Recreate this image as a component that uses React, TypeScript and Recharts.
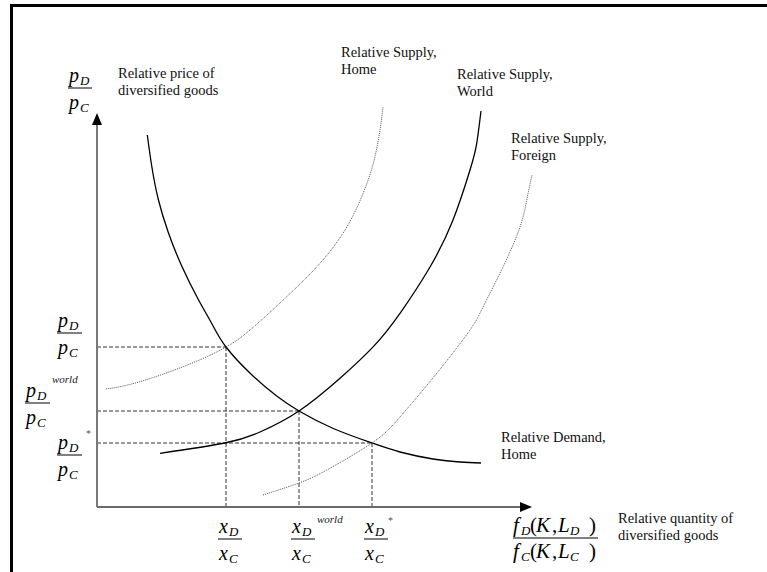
import React from 'react';
import { LineChart, Line, XAxis, YAxis, ReferenceLine, ReferenceDot, Customized } from 'recharts';

// Equilibria: home autarky, world (free trade), foreign autarky
const eqQuantity = [32.25, 50.5, 68.75];
const eqPrice = [40, 24, 16];
const eqSuperscript = ['', 'world', '*'];

// Relative demand, home (quantity, price)
const demandQ = [12.58, 13.68, 15.33, 17.83, 21.18, 25.33, 28.75, 32.25, 38.75, 44.93, 50.5, 59.08, 68.75, 75.75, 84.0, 90.75, 96.0];
const demandP = [93.0, 85.25, 76.88, 68.63, 60.25, 51.88, 45.75, 40.0, 33.0, 27.75, 24.0, 19.63, 16.0, 13.75, 12.0, 11.25, 11.0];

// Relative supply, home
const supplyHomeQ = [2.25, 10.75, 23.68, 32.25, 38.25, 47.43, 55.75, 62.0, 66.18, 69.08, 70.75, 71.5];
const supplyHomeP = [29.5, 31.33, 35.93, 40.0, 44.25, 52.58, 60.93, 69.25, 77.58, 85.93, 94.25, 100.0];

// Relative supply, world
const supplyWorldQ = [15.75, 32.0, 40.75, 50.5, 60.75, 69.08, 75.75, 83.25, 89.0, 93.25, 94.93, 96.0];
const supplyWorldP = [13.43, 16.0, 18.75, 24.0, 32.18, 40.08, 48.43, 60.0, 71.75, 84.25, 90.93, 99.0];

// Relative supply, foreign
const supplyForeignQ = [41.5, 50.5, 57.43, 68.75, 75.75, 85.0, 93.25, 96.5, 101.5, 105.75, 107.43, 108.75];
const supplyForeignP = [3.0, 6.0, 9.25, 16.0, 22.5, 33.5, 44.25, 50.0, 60.0, 70.0, 76.75, 83.0];

const AXIS_END_Q = 108.75;
const AXIS_END_P = 98.5;

const toPoints = (q: number[], p: number[]) => q.map((x, i) => ({ x, y: p[i] }));

const demand = toPoints(demandQ, demandP);
const supplyHome = toPoints(supplyHomeQ, supplyHomeP);
const supplyWorld = toPoints(supplyWorldQ, supplyWorldP);
const supplyForeign = toPoints(supplyForeignQ, supplyForeignP);

const SERIF = "'Liberation Serif', 'Times New Roman', serif";
const MATH = 20;
const SUB = 13;

type FracProps = {
  left: number;
  lineY: number;
  width: number;
  letter: string;
  numSub: string;
  denSub: string;
  numOffset: number;
};

const Frac = ({ left, lineY, width, letter, numSub, denSub, numOffset }: FracProps) => (
  <g fontFamily={SERIF} fill="#000">
    <line x1={left} x2={left + width} y1={lineY} y2={lineY} stroke="#000" strokeWidth={1} />
    <text x={left + 1} y={lineY - numOffset} fontSize={MATH} fontStyle="italic">
      {letter}
      <tspan fontSize={SUB} dx={1} dy={3}>{numSub}</tspan>
    </text>
    <text x={left + 1} y={lineY + 21} fontSize={MATH} fontStyle="italic">
      {letter}
      <tspan fontSize={SUB} dx={1} dy={3}>{denSub}</tspan>
    </text>
  </g>
);

// price label beside the vertical axis, at the equilibrium price's height
const PriceLabel = ({ cy, index }: { cy: number; index: number }) => {
  const layouts = [
    { left: 57, dy: -14 },
    { left: 25, dy: -8 },
    { left: 57, dy: 12 },
  ];
  const l = layouts[index];
  const lineY = cy + l.dy;
  const sup = eqSuperscript[index];
  return (
    <g>
      <Frac left={l.left} lineY={lineY} width={25} letter="p" numSub="D" denSub="C" numOffset={6} />
      {sup === 'world' && (
        <text x={52} y={cy - 28} fontFamily={SERIF} fontSize={11} fontStyle="italic" fill="#222">world</text>
      )}
      {sup === '*' && (
        <text x={86} y={cy - 6} fontFamily={SERIF} fontSize={10} fill="#555">*</text>
      )}
    </g>
  );
};

// quantity label under the horizontal axis, at the equilibrium quantity
const QuantityLabel = ({ cx, index }: { cx: number; index: number }) => {
  const sup = eqSuperscript[index];
  return (
    <g>
      <Frac left={cx - 8} lineY={539} width={24} letter="x" numSub="D" denSub="C" numOffset={6} />
      {sup === 'world' && (
        <text x={cx + 18} y={523} fontFamily={SERIF} fontSize={11} fontStyle="italic" fill="#222">world</text>
      )}
      {sup === '*' && (
        <text x={cx + 16} y={524} fontFamily={SERIF} fontSize={10} fill="#555">*</text>
      )}
    </g>
  );
};

const Caption = ({ x, y, lines }: { x: number; y: number; lines: string[] }) => (
  <text x={x} y={y} fontFamily={SERIF} fontSize={14.5} fill="#111">
    {lines.map((t, i) => (
      <tspan key={i} x={x} dy={i === 0 ? 0 : 16.5}>{t}</tspan>
    ))}
  </text>
);

// f_D(K, L_D) over f_C(K, L_C)
const FactorRatio = () => {
  const part = (base: number, sub: string) => (
    <text y={base} fontFamily={SERIF} fontSize={21} fill="#000">
      <tspan x={513} fontStyle="italic">f</tspan>
      <tspan x={521} dy={3} fontSize={SUB} fontStyle="italic">{sub}</tspan>
      <tspan x={530} dy={-3}>(</tspan>
      <tspan x={536} fontStyle="italic">K</tspan>
      <tspan x={552}>,</tspan>
      <tspan x={558} fontStyle="italic">L</tspan>
      <tspan x={570} dy={3} fontSize={SUB} fontStyle="italic">{sub}</tspan>
      <tspan x={589} dy={-3}>)</tspan>
    </text>
  );
  return (
    <g>
      {part(532, 'D')}
      <line x1={513} x2={598} y1={538} y2={538} stroke="#000" strokeWidth={1} />
      {part(558, 'C')}
    </g>
  );
};

const Annotations = () => (
  <g>
    <Frac left={68} lineY={88} width={24} letter="p" numSub="D" denSub="C" numOffset={6} />
    <Caption x={118} y={78} lines={['Relative price of', 'diversified goods']} />
    <Caption x={341} y={57} lines={['Relative Supply,', 'Home']} />
    <Caption x={457} y={79} lines={['Relative Supply,', 'World']} />
    <Caption x={511} y={143} lines={['Relative Supply,', 'Foreign']} />
    <Caption x={501} y={442} lines={['Relative Demand,', 'Home']} />
    <Caption x={618} y={523} lines={['Relative quantity of', 'diversified goods']} />
    <FactorRatio />
  </g>
);

const UpArrow = (p: any) => (
  <polygon points={`${p.cx},${p.cy} ${p.cx - 5},${p.cy + 12} ${p.cx + 5},${p.cy + 12}`} fill="#000" />
);
const RightArrow = (p: any) => (
  <polygon points={`${p.cx},${p.cy} ${p.cx - 12},${p.cy - 5} ${p.cx - 12},${p.cy + 5}`} fill="#000" />
);

export default function App() {
  return (
    <div style={{ position: 'absolute', left: 0, top: 0, width: 767, height: 572, background: '#fff', overflow: 'hidden' }}>
      <div
        style={{
          position: 'absolute',
          left: 10,
          top: 4,
          right: -4,
          bottom: -4,
          borderTop: '3px solid #000',
          borderLeft: '3px solid #000',
        }}
      />
      <div style={{ position: 'absolute', left: 0, top: 0 }}>
        <LineChart width={767} height={572} margin={{ top: 67, right: 230, bottom: 65, left: 97 }}>
          <XAxis type="number" dataKey="x" domain={[0, 110]} hide />
          <YAxis type="number" dataKey="y" domain={[0, 110]} hide />

          {eqQuantity.map((q, i) => (
            <ReferenceLine
              key={`h${i}`}
              segment={[{ x: 0, y: eqPrice[i] }, { x: q, y: eqPrice[i] }]}
              stroke="#333"
              strokeWidth={1}
              strokeDasharray="4 2"
            />
          ))}
          {eqQuantity.map((q, i) => (
            <ReferenceLine
              key={`v${i}`}
              segment={[{ x: q, y: eqPrice[i] }, { x: q, y: 0 }]}
              stroke="#333"
              strokeWidth={1}
              strokeDasharray="4 2"
            />
          ))}

          <ReferenceLine segment={[{ x: 0, y: 0 }, { x: 0, y: AXIS_END_P - 1.5 }]} stroke="#6b6b6b" strokeWidth={1.8} />
          <ReferenceLine segment={[{ x: 0, y: 0 }, { x: AXIS_END_Q - 1.5, y: 0 }]} stroke="#6b6b6b" strokeWidth={1.8} />
          <ReferenceDot x={0} y={AXIS_END_P} r={0} ifOverflow="visible" shape={UpArrow} />
          <ReferenceDot x={AXIS_END_Q} y={0} r={0} ifOverflow="visible" shape={RightArrow} />

          {eqPrice.map((p, i) => (
            <ReferenceDot
              key={`pl${i}`}
              x={0}
              y={p}
              r={0}
              ifOverflow="visible"
              shape={(s: any) => <PriceLabel cy={s.cy} index={i} />}
            />
          ))}
          {eqQuantity.map((q, i) => (
            <ReferenceDot
              key={`ql${i}`}
              x={q}
              y={0}
              r={0}
              ifOverflow="visible"
              shape={(s: any) => <QuantityLabel cx={s.cx} index={i} />}
            />
          ))}

          <Line data={supplyHome} dataKey="y" type="natural" stroke="#555" strokeWidth={1} strokeDasharray="1 1" dot={false} activeDot={false} isAnimationActive={false} />
          <Line data={supplyForeign} dataKey="y" type="natural" stroke="#555" strokeWidth={1} strokeDasharray="1 1" dot={false} activeDot={false} isAnimationActive={false} />
          <Line data={supplyWorld} dataKey="y" type="natural" stroke="#000" strokeWidth={1.3} dot={false} activeDot={false} isAnimationActive={false} />
          <Line data={demand} dataKey="y" type="natural" stroke="#000" strokeWidth={1.3} dot={false} activeDot={false} isAnimationActive={false} />

          <Customized component={<Annotations />} />
        </LineChart>
      </div>
    </div>
  );
}
